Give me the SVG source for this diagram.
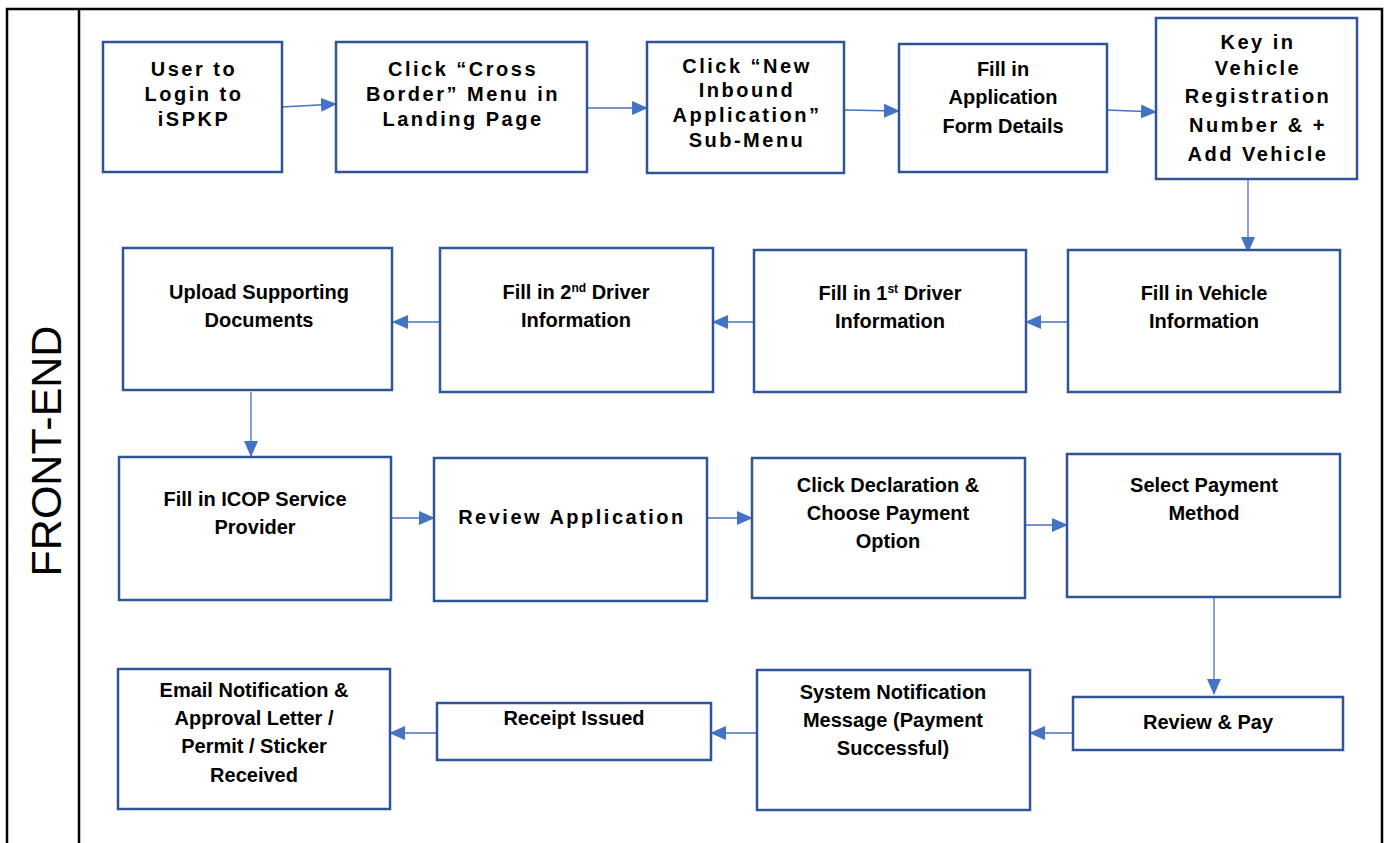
<svg xmlns="http://www.w3.org/2000/svg" width="1387" height="843" viewBox="0 0 1387 843">
<style>
.frame{fill:none;stroke:#000;stroke-width:2.5}
.box{fill:#fff;stroke:#2F5597;stroke-width:2.5}
.t{font-family:"Liberation Sans",Arial,sans-serif;font-weight:bold;font-size:20px;fill:#000;text-anchor:middle}
.s{font-size:20px;letter-spacing:2.5px}
.conn{fill:none;stroke:#4472C4;stroke-width:1.3}
.lane{font-family:"Liberation Sans",Arial,sans-serif;font-size:43px;fill:#000;text-anchor:middle}
</style>
<defs>
<marker id="ah" markerUnits="userSpaceOnUse" markerWidth="16" markerHeight="14" refX="15" refY="7" orient="auto">
<path d="M0,0 L16,7 L0,14 Z" fill="#4472C4"/>
</marker>
</defs>
<rect width="1387" height="843" fill="#fff"/>
<g id="frame">
<path class="frame" d="M7,850 V9 H1382 V850 M79,9 V850"/>
<text class="lane" transform="translate(61,451) rotate(-90)">FRONT-END</text>
</g>
<g id="connectors">
<path class="conn" marker-end="url(#ah)" d="M282,107 L336,104"/>
<path class="conn" marker-end="url(#ah)" d="M587,108 L647,108"/>
<path class="conn" marker-end="url(#ah)" d="M844,110 L899,111"/>
<path class="conn" marker-end="url(#ah)" d="M1107,110 L1156,112"/>
<path class="conn" marker-end="url(#ah)" d="M1248,179 L1248,252"/>
<path class="conn" marker-end="url(#ah)" d="M1068,322 L1026,322"/>
<path class="conn" marker-end="url(#ah)" d="M754,322 L713,322"/>
<path class="conn" marker-end="url(#ah)" d="M440,322 L393,322"/>
<path class="conn" marker-end="url(#ah)" d="M251,392 L251,456"/>
<path class="conn" marker-end="url(#ah)" d="M391,518 L434,518"/>
<path class="conn" marker-end="url(#ah)" d="M707,518 L752,518"/>
<path class="conn" marker-end="url(#ah)" d="M1025,525 L1067,525"/>
<path class="conn" marker-end="url(#ah)" d="M1214,597 L1214,694"/>
<path class="conn" marker-end="url(#ah)" d="M1073,733 L1030,733"/>
<path class="conn" marker-end="url(#ah)" d="M757,733 L711,733"/>
<path class="conn" marker-end="url(#ah)" d="M437,733 L390,733"/>
</g>
<g id="n1"><rect class="box" x="103" y="42" width="179" height="130"/>
<text class="t s" x="194"><tspan x="194" y="76">User to</tspan><tspan x="194" y="101">Login to</tspan><tspan x="194" y="126">iSPKP</tspan></text></g>
<g id="n2"><rect class="box" x="336" y="42" width="251" height="130"/>
<text class="t s" x="463"><tspan x="463" y="76">Click “Cross</tspan><tspan x="463" y="101">Border” Menu in</tspan><tspan x="463" y="126">Landing Page</tspan></text></g>
<g id="n3"><rect class="box" x="647" y="42" width="197" height="131"/>
<text class="t s" x="747"><tspan x="747" y="73">Click “New</tspan><tspan x="747" y="97">Inbound</tspan><tspan x="747" y="122">Application”</tspan><tspan x="747" y="147">Sub-Menu</tspan></text></g>
<g id="n4"><rect class="box" x="899" y="44" width="208" height="128"/>
<text class="t" x="1003"><tspan x="1003" y="76">Fill in</tspan><tspan x="1003" y="104">Application</tspan><tspan x="1003" y="133">Form Details</tspan></text></g>
<g id="n5"><rect class="box" x="1156" y="18" width="201" height="161"/>
<text class="t s" x="1258"><tspan x="1258" y="49">Key in</tspan><tspan x="1258" y="75">Vehicle</tspan><tspan x="1258" y="103">Registration</tspan><tspan x="1258" y="132">Number &amp; +</tspan><tspan x="1258" y="161">Add Vehicle</tspan></text></g>
<g id="n6"><rect class="box" x="1068" y="250" width="272" height="142"/>
<text class="t" x="1204"><tspan x="1204" y="300">Fill in Vehicle</tspan><tspan x="1204" y="328">Information</tspan></text></g>
<g id="n7"><rect class="box" x="754" y="250" width="272" height="142"/>
<text class="t" x="890"><tspan x="890" y="300">Fill in 1<tspan font-size="12" dy="-7">st</tspan><tspan dy="7"> Driver</tspan></tspan><tspan x="890" y="328">Information</tspan></text></g>
<g id="n8"><rect class="box" x="440" y="248" width="273" height="144"/>
<text class="t" x="576"><tspan x="576" y="299">Fill in 2<tspan font-size="12" dy="-7">nd</tspan><tspan dy="7"> Driver</tspan></tspan><tspan x="576" y="327">Information</tspan></text></g>
<g id="n9"><rect class="box" x="123" y="248" width="269" height="142"/>
<text class="t" x="259"><tspan x="259" y="299">Upload Supporting</tspan><tspan x="259" y="327">Documents</tspan></text></g>
<g id="n10"><rect class="box" x="119" y="457" width="272" height="143"/>
<text class="t" x="255"><tspan x="255" y="506">Fill in ICOP Service</tspan><tspan x="255" y="534">Provider</tspan></text></g>
<g id="n11"><rect class="box" x="434" y="458" width="273" height="143"/>
<text class="t s" x="572" y="524">Review Application</text></g>
<g id="n12"><rect class="box" x="752" y="458" width="273" height="140"/>
<text class="t" x="888"><tspan x="888" y="492">Click Declaration &amp;</tspan><tspan x="888" y="520">Choose Payment</tspan><tspan x="888" y="548">Option</tspan></text></g>
<g id="n13"><rect class="box" x="1067" y="454" width="273" height="143"/>
<text class="t" x="1204"><tspan x="1204" y="492">Select Payment</tspan><tspan x="1204" y="520">Method</tspan></text></g>
<g id="n14"><rect class="box" x="1073" y="697" width="270" height="53"/>
<text class="t" x="1208" y="729">Review &amp; Pay</text></g>
<g id="n15"><rect class="box" x="757" y="670" width="273" height="140"/>
<text class="t" x="893"><tspan x="893" y="699">System Notification</tspan><tspan x="893" y="727">Message (Payment</tspan><tspan x="893" y="755">Successful)</tspan></text></g>
<g id="n16"><rect class="box" x="437" y="703" width="274" height="57"/>
<text class="t" x="574" y="725">Receipt Issued</text></g>
<g id="n17"><rect class="box" x="118" y="669" width="272" height="140"/>
<text class="t" x="254"><tspan x="254" y="697">Email Notification &amp;</tspan><tspan x="254" y="725">Approval Letter /</tspan><tspan x="254" y="753">Permit / Sticker</tspan><tspan x="254" y="782">Received</tspan></text></g>
</svg>
